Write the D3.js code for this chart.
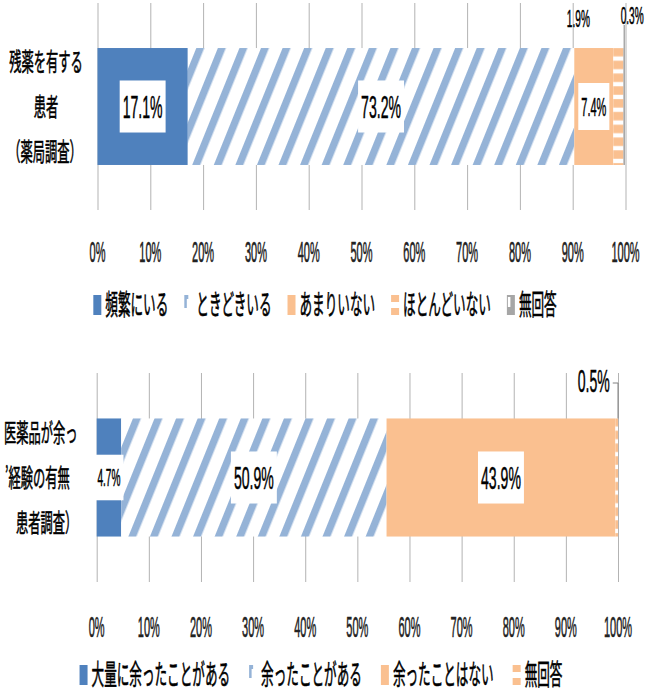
<!DOCTYPE html>
<html lang="ja">
<head>
<meta charset="UTF-8">
<title>残薬・医薬品が余った経験</title>
<script src="https://d3js.org/d3.v7.min.js"></script>
<style>
    body { margin: 0; background: #fff; }
    svg { display: block; }
    .num { font-family: "Liberation Sans", Arial, sans-serif; fill: #000; stroke: #000; stroke-width: 0.5px; }
    .jp { font-family: "Noto Sans CJK JP", sans-serif; fill: #000; stroke: #000; stroke-width: 0.6px; }
    .tickLabel { fill: #222; stroke: #222; stroke-width: 0.6px; }
</style>
</head>
<body>
<svg width="645" height="692"></svg>
<script>
// ---- data ----
var tickValues = [0, 10, 20, 30, 40, 50, 60, 70, 80, 90, 100];

var pharmacyCats = ["頻繁にいる", "ときどきいる", "あまりいない", "ほとんどいない", "無回答"];
var pharmacyValues = [17.1, 73.2, 7.4, 1.9, 0.3];
var pharmacyTitle = ["残薬を有する", "患者", "（薬局調査）"];

var patientCats = ["大量に余ったことがある", "余ったことがある", "余ったことはない", "無回答"];
var patientValues = [4.7, 50.9, 43.9, 0.5];
var patientTitle = ["医薬品が余っ", "’経験の有無", "患者調査）"];

// ---- styles ----
var BLUE = "#4F81BD", LIGHT = "#95B3D7", ORANGE = "#FAC090", GRAY = "#A6A6A6";
var NUM_SX = 0.44, JP_SX = 0.45;

var svg = d3.select("svg");
var defs = svg.append("defs");

// wide upward diagonal hatch
var hatch = defs.append("pattern")
    .attr("id", "hatch")
    .attr("patternUnits", "userSpaceOnUse")
    .attr("width", 20).attr("height", 20)
    .attr("patternTransform", "rotate(22)");
hatch.append("rect").attr("width", 20).attr("height", 20).attr("fill", "#fff");
hatch.append("rect").attr("width", 7.4).attr("height", 20).attr("fill", LIGHT);

function dashPattern(id, y0) {
    var p = defs.append("pattern")
        .attr("id", id)
        .attr("patternUnits", "userSpaceOnUse")
        .attr("x", 0).attr("y", y0)
        .attr("width", 40).attr("height", 12.8);
    p.append("rect").attr("width", 40).attr("height", 12.8).attr("fill", ORANGE);
    p.append("rect").attr("y", 4.7).attr("width", 40).attr("height", 4.3).attr("fill", "#fff");
}

function txt(g, x, y, str, cls, fs, sx, anchor) {
    return g.append("text")
        .attr("class", cls)
        .attr("transform", "translate(" + x + "," + y + ") scale(" + sx + ",1)")
        .attr("text-anchor", anchor || "middle")
        .attr("dy", "0.36em")
        .style("font-size", fs + "px")
        .text(str);
}

function fmt(v) { return v.toFixed(1) + "%"; }

function drawChart(cfg) {
    var g = svg.append("g");
    dashPattern("dash" + cfg.id, cfg.gridTop + 44 + 4.7);

    var x = d3.scaleLinear().domain([0, 100]).range([cfg.x0, cfg.x1]);
    var y = d3.scaleBand().domain([cfg.title.join("")])
        .range([cfg.gridTop, cfg.gridBottom])
        .paddingInner(0).paddingOuter(0.385);
    var barTop = y(cfg.title.join("")), bh = y.bandwidth();

    // gridlines
    g.append("g")
        .attr("transform", "translate(0," + cfg.gridBottom + ")")
        .call(d3.axisBottom(x).tickValues(tickValues)
            .tickSize(-(cfg.gridBottom - cfg.gridTop)).tickFormat(""))
        .call(function (a) {
            a.select(".domain").remove();
            a.selectAll("line").attr("stroke", "#B3B3B3").attr("stroke-width", 1);
        });

    // tick labels
    tickValues.forEach(function (t) {
        txt(g, x(t), cfg.tickY, t + "%", "num tickLabel", 29, 0.38);
    });

    // stacked segments
    var cum = 0;
    var segs = cfg.values.map(function (v, i) {
        var s = { v: v, i: i, start: cum, end: cum + v };
        cum += v;
        return s;
    });

    g.selectAll(".seg")
        .data(segs)
        .enter().append("rect")
        .attr("class", "seg")
        .attr("x", function (d) { return x(d.start); })
        .attr("y", barTop)
        .attr("width", function (d) { return x(d.end) - x(d.start); })
        .attr("height", bh)
        .attr("fill", function (d) { return cfg.fills[d.i]; });

    var cy = barTop + bh / 2;

    // data labels
    segs.forEach(function (d) {
        var fs = cfg.labelSize[d.i];
        var out = cfg.outside[d.i];
        var cx = (x(d.start) + x(d.end)) / 2;
        if (out) {
            var lx = cx + out.dx, ly = out.y;
            var t = txt(g, lx, ly, fmt(d.v), "num", fs, NUM_SX);
            var w = t.node().getComputedTextLength() * NUM_SX;
            if (out.leader === "v") {
                g.append("line")
                    .attr("x1", cx).attr("x2", cx)
                    .attr("y1", ly + 9).attr("y2", barTop)
                    .attr("stroke", "#808080").attr("stroke-width", 1);
            } else if (out.leader === "elbow") {
                var ex = x(d.end);
                g.append("polyline")
                    .attr("points", [[lx + w / 2 + 3, ly + 3], [ex, ly + 3], [ex, barTop]].join(" "))
                    .attr("fill", "none")
                    .attr("stroke", "#808080").attr("stroke-width", 1);
            }
        } else {
            var box = g.append("rect").attr("fill", "#fff");
            var t2 = txt(g, cx, cy, fmt(d.v), "num", fs, NUM_SX);
            var w2 = t2.node().getComputedTextLength() * NUM_SX;
            var h2 = fs * 0.72 + 29;
            box.attr("x", cx - w2 / 2 - 3).attr("y", cy - h2 / 2)
                .attr("width", w2 + 6).attr("height", h2);
        }
    });

    // category title
    cfg.title.forEach(function (line, k) {
        var p = cfg.titlePos[k];
        txt(g, p.x, cy + (k - 1) * 45, line, "jp", 25, 0.49, p.anchor);
    });

    // legend
    var lg = g.append("g");
    var items = cfg.cats.map(function (c, i) {
        var it = lg.append("g");
        var tt = txt(it, 12, 0, c, "jp", 28, JP_SX, "start");
        var w = tt.node().getComputedTextLength() * JP_SX;
        swatch(it, cfg.swatch[i], -10);
        return { g: it, w: 12 + w };
    });
    var total = d3.sum(items, function (d) { return d.w; }) + cfg.legendGap * (items.length - 1);
    var lx0 = cfg.legendCx - total / 2;
    items.forEach(function (it) {
        it.g.attr("transform", "translate(" + lx0 + "," + cfg.legendY + ")");
        lx0 += it.w + cfg.legendGap;
    });
}

function swatch(g, type, y0) {
    if (type === "solid") {
        g.append("rect").attr("y", y0).attr("width", 8).attr("height", 20).attr("fill", BLUE);
    } else if (type === "orange") {
        g.append("rect").attr("y", y0).attr("width", 8).attr("height", 20).attr("fill", ORANGE);
    } else if (type === "hatch") {
        g.append("path")
            .attr("d", "M0," + y0 + "h4v4h-1.5v9h-2.5z")
            .attr("fill", LIGHT);
    } else if (type === "dash") {
        g.append("rect").attr("y", y0).attr("width", 8).attr("height", 7).attr("fill", ORANGE);
        g.append("rect").attr("y", y0 + 13).attr("width", 8).attr("height", 7).attr("fill", ORANGE);
    } else if (type === "gray") {
        g.append("rect").attr("y", y0).attr("width", 8).attr("height", 20).attr("fill", GRAY);
        g.append("rect").attr("x", 1).attr("y", y0 + 2).attr("width", 2.5).attr("height", 10).attr("fill", "#fff");
    }
}

drawChart({
    id: "A",
    cats: pharmacyCats, values: pharmacyValues, title: pharmacyTitle,
    x0: 97.5, x1: 625.5, gridTop: 3, gridBottom: 210, tickY: 252,
    legendY: 305, legendCx: 325, legendGap: 16,
    fills: [BLUE, "url(#hatch)", ORANGE, "url(#dashA)", GRAY],
    swatch: ["solid", "hatch", "orange", "dash", "gray"],
    labelSize: [32, 32, 25, 23, 23],
    outside: [null, null, null, { dx: -40, y: 19 }, { dx: 8, y: 16, leader: "v" }],
    titlePos: [{ x: 46, anchor: "middle" }, { x: 46, anchor: "middle" }, { x: 45, anchor: "middle" }]
});

drawChart({
    id: "B",
    cats: patientCats, values: patientValues, title: patientTitle,
    x0: 96.7, x1: 618, gridTop: 373, gridBottom: 582, tickY: 627,
    legendY: 675, legendCx: 321, legendGap: 19,
    fills: [BLUE, "url(#hatch)", ORANGE, "url(#dashB)"],
    swatch: ["solid", "hatch", "orange", "dash"],
    labelSize: [23, 32, 32, 32],
    outside: [null, null, null, { dx: -23, y: 380, leader: "elbow" }],
    titlePos: [{ x: 4, anchor: "start" }, { x: 5, anchor: "start" }, { x: 16, anchor: "start" }]
});
</script>
</body>
</html>
